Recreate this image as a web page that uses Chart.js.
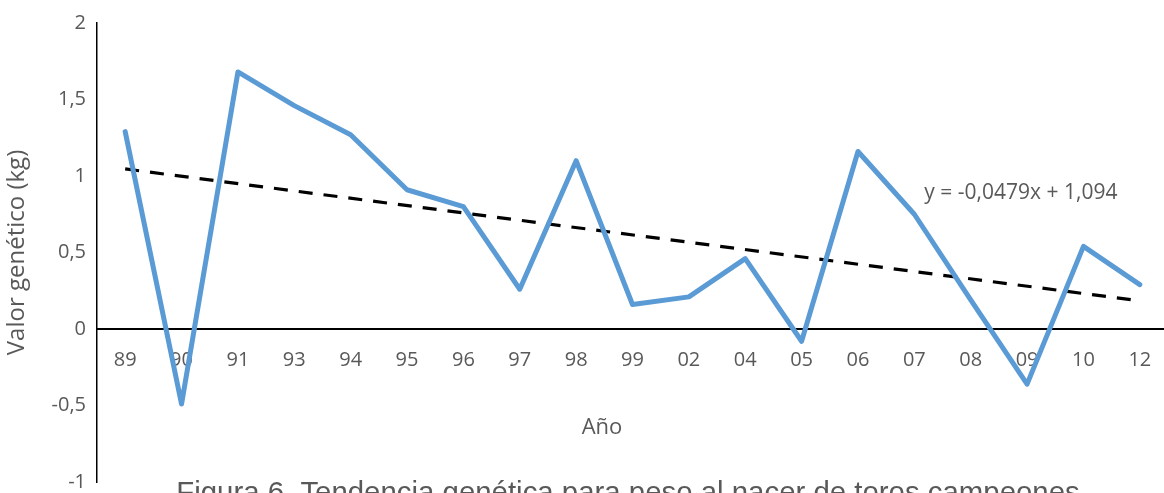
<!DOCTYPE html>
<html>
<head>
<meta charset="utf-8">
<script src="https://cdn.jsdelivr.net/npm/chart.js@4"></script>
<style>
   html, body { margin: 0; padding: 0; background: #fff; overflow: hidden; }
   #wrap { width: 1172px; height: 520px; }
</style>
</head>
<body>
<div id="wrap"><canvas id="trendChart"></canvas></div>
<script>
// Años (eje X) y valor genético (kg)
const years = ['89', '90', '91', '93', '94', '95', '96', '97', '98', '99', '02', '04', '05', '06', '07', '08', '09', '10', '12'];
const geneticValues = [1.29, -0.49, 1.68, 1.46, 1.27, 0.91, 0.80, 0.26, 1.10, 0.16, 0.21, 0.46, -0.08, 1.16, 0.75, 0.19, -0.36, 0.54, 0.29];

// Linea de tendencia tal como aparece en el grafico: y = -0,0479x + 1,094
const trendSlope = -0.0479;
const trendIntercept = 1.094;
const trendLabel = 'y = -0,0479x + 1,094';

const yTicks = [-1, -0.5, 0, 0.5, 1, 1.5, 2];

const grey = '#595959';
const fontFamily = '"Open Sans", "Liberation Sans", sans-serif';

// only the two ends of the trend line, the rest is spanned
const trendData = years.map((y, i) => {
   if (i === 0 || i === years.length - 1) return trendIntercept + trendSlope * (i + 1);
   return null;
});

const textPlugin = {
   id: 'extraText',
   afterDraw(chart) {
      const c = chart.ctx;
      const xs = chart.scales.x;
      const ys = chart.scales.y;
      c.save();
      c.fillStyle = grey;
      c.textAlign = 'center';
      c.textBaseline = 'middle';

      // ecuacion de la tendencia
      c.font = '21px ' + fontFamily;
      c.fillText(trendLabel, (xs.getPixelForValue(15) + xs.getPixelForValue(16)) / 2 + 22, ys.getPixelForValue(0.89));

      // titulo del eje X
      c.font = '22px ' + fontFamily;
      c.fillText('Año', 602, 428);

      // pie de figura (cortado abajo como en el original)
      c.font = '29.4px "Liberation Sans", Arial, sans-serif';
      c.textBaseline = 'alphabetic';
      c.fillText('Figura 6. Tendencia genética para peso al nacer de toros campeones', 628, 502);
      c.restore();
   }
};

const ctx = document.getElementById('trendChart').getContext('2d');
new Chart(ctx, {
   type: 'line',
   data: {
      labels: years,
      datasets: [
         {
            label: 'Valor genético',
            data: geneticValues,
            borderColor: '#5B9BD5',
            borderWidth: 5,
            borderCapStyle: 'round',
            borderJoinStyle: 'round',
            pointRadius: 0,
            tension: 0,
            fill: false
         },
         {
            label: 'Tendencia',
            data: trendData,
            borderColor: '#000000',
            borderWidth: 3.2,
            borderDash: [14, 11],
            pointRadius: 0,
            spanGaps: true,
            tension: 0,
            fill: false
         }
      ]
   },
   options: {
      responsive: true,
      maintainAspectRatio: false,
      animation: false,
      layout: {
         padding: { left: 0, top: 14, right: 4, bottom: 38 }
      },
      scales: {
         x: {
            type: 'category',
            offset: true,
            position: { y: 0 },
            grid: { display: false, drawTicks: false },
            border: { display: true, color: '#000000', width: 2 },
            ticks: {
               color: grey,
               font: { family: fontFamily, size: 20 },
               padding: 19,
               maxRotation: 0,
               autoSkip: false
            }
         },
         y: {
            min: -1,
            max: 2,
            afterFit(scale) { scale.width = 97; },
            afterBuildTicks(scale) { scale.ticks = yTicks.map(v => ({ value: v })); },
            grid: { display: false, drawTicks: false },
            border: { display: true, color: '#000000', width: 1.5 },
            ticks: {
               color: grey,
               font: { family: fontFamily, size: 20 },
               padding: 11,
               callback: v => String(v).replace('.', ',')
            },
            title: {
               display: true,
               text: 'Valor genético (kg)',
               color: grey,
               font: { family: fontFamily, size: 24 },
               padding: { top: 3, bottom: 0 }
            }
         }
      },
      plugins: {
         legend: { display: false },
         tooltip: { enabled: false }
      }
   },
   plugins: [textPlugin]
});
</script>
</body>
</html>
